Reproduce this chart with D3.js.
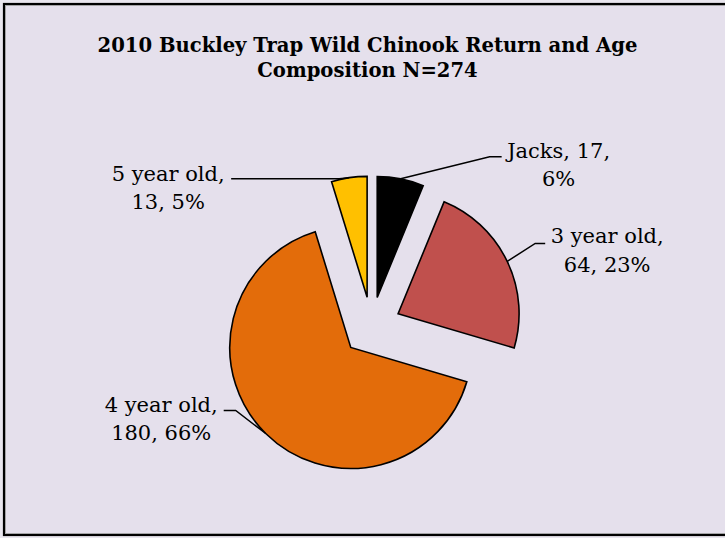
<!DOCTYPE html>
<html><head><meta charset="utf-8">
<script src="https://cdn.jsdelivr.net/npm/d3@7"></script>
<style>html,body{margin:0;padding:0;background:#fff;} svg{display:block;}</style>
</head><body>
<svg id="chart" width="725" height="538"></svg>
<script>
// ---- data ----
const categories = ["Jacks", "3 year old", "4 year old", "5 year old"];
const counts = [17, 64, 180, 13];
const percentLabels = ["6%", "23%", "66%", "5%"];
const titleLines = ["2010 Buckley Trap Wild Chinook Return and Age", "Composition N=274"];

// ---- styling / layout ----
const colors = ["#000000", "#C0504D", "#E36C0A", "#FFC000"];
const W = 725, H = 538;
const cx = 371.5, cy = 326.5, R = 121, explode = 29.5;
const font = "'DejaVu Serif', 'Liberation Serif', serif";
// leader layout relative to arc anchor: elbow offset, end offset, label centre x offset, baseline offset
const leaderLayout = [
  {ex: 89, ey: -22, hx: 12, tx: 57, ty: 1, split: 2},
  {ex: 28, ey: -18, hx: 10, tx: 62, ty: 0, split: 3},
  {ex: -30, ey: -23, hx: -12, tx: -62.5, ty: 1, split: 3},
  {ex: -10, ey: 1, hx: -108, tx: -63, ty: 2, split: 3}
];

const svg = d3.select("#chart");
svg.append("rect").attr("x", 0).attr("y", 0).attr("width", W).attr("height", H).attr("fill", "#E9E6EE");
svg.append("rect").attr("x", 4).attr("y", 4).attr("width", W + 10).attr("height", 531)
  .attr("fill", "#E5E0EC").attr("stroke", "#000").attr("stroke-width", 2.2);
svg.append("rect").attr("x", 5.6).attr("y", 5.6).attr("width", W + 10).attr("height", 528)
  .attr("fill", "none").attr("stroke", "#9a9a9a").attr("stroke-width", 0.8);

// title
const title = svg.append("text").attr("text-anchor", "middle")
  .attr("font-family", font).attr("font-weight", "bold").attr("font-size", 19.6).attr("fill", "#000");
titleLines.forEach((t, i) => {
  title.append("tspan").attr("x", 367.5).attr("y", 52 + i * 25).text(t);
});

const data = categories.map((c, i) => ({cat: c, count: counts[i], pct: percentLabels[i], i}));
const pie = d3.pie().value(d => d.count).sort(null).startAngle(0).endAngle(2 * Math.PI);
const arcs = pie(data);
const arc = d3.arc().innerRadius(0).outerRadius(R);

const g = svg.append("g").attr("transform", `translate(${cx},${cy})`);

arcs.forEach(a => {
  const mid = (a.startAngle + a.endAngle) / 2;
  const ox = explode * Math.sin(mid), oy = -explode * Math.cos(mid);
  g.append("path")
    .attr("d", arc(a))
    .attr("transform", `translate(${ox},${oy})`)
    .attr("fill", colors[a.data.i])
    .attr("stroke", "#000").attr("stroke-width", 1.6).attr("stroke-linejoin", "miter");
  a.anchor = [ox + R * Math.sin(mid), oy - R * Math.cos(mid)];
});

// labels + leaders
arcs.forEach(a => {
  const L = leaderLayout[a.data.i];
  const [ax, ay] = a.anchor;
  const elx = ax + L.ex, ely = ay + L.ey;
  const enx = elx + L.hx;
  g.append("path")
    .attr("d", d3.line()([[ax, ay], [elx, ely], [enx, ely]]))
    .attr("fill", "none").attr("stroke", "#000").attr("stroke-width", 1.5);
  const words = `${a.data.cat}, ${a.data.count}, ${a.data.pct}`.split(" ");
  const lines = [words.slice(0, L.split).join(" "), words.slice(L.split).join(" ")];
  const t = g.append("text").attr("text-anchor", "middle")
    .attr("font-family", font).attr("font-size", 21).attr("fill", "#000");
  lines.forEach((ln, k) => {
    t.append("tspan").attr("x", enx + L.tx).attr("y", ely + L.ty + k * 28.5).text(ln);
  });
});
</script>
</body></html>
